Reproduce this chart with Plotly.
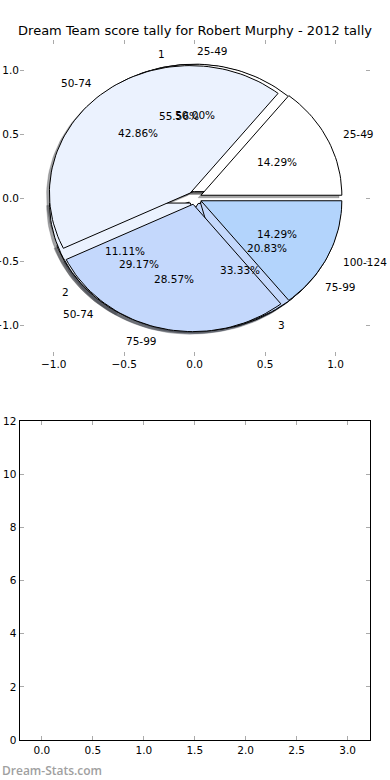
import math
import plotly.graph_objects as go

# ---- data ----
title_text = "Dream Team score tally for Robert Murphy - 2012 tally"

pieA_labels = ["1", "2", "3"]
pieA_values = [5, 1, 3]

pieB_labels = ["25-49", "50-74", "75-99"]
pieB_values = [12, 7, 5]

pieC_labels = ["25-49", "50-74", "75-99", "100-124"]
pieC_values = [1, 3, 2, 1]

pie_colors = ["#ffffff", "#ebf2fe", "#c4d8fc", "#b3d4fc"]

top_ticks = [-1.0, -0.5, 0.0, 0.5, 1.0]
top_ticktext = ["\u22121.0", "\u22120.5", "0.0", "0.5", "1.0"]
bottom_xticks = [0.0, 0.5, 1.0, 1.5, 2.0, 2.5, 3.0]
bottom_yticks = [0, 2, 4, 6, 8, 10, 12]

EXPLODE = 0.05
RADIUS = 1.0
SHADOW = (-0.02, -0.02)
FONT = "DejaVu Sans"

fig = go.Figure()
annotations = []


def shade(hexcol):
    h = hexcol.lstrip("#")
    r, g, b = (int(h[i:i + 2], 16) for i in (0, 2, 4))
    return "rgba(%d,%d,%d,0.5)" % (r * 0.3, g * 0.3, b * 0.3)


def wedge_path(cx, cy, t1, t2, r):
    n = max(8, int(abs(t2 - t1) / 2) + 2)
    xs, ys = [cx], [cy]
    for i in range(n + 1):
        t = math.radians(t1 + (t2 - t1) * i / n)
        xs.append(cx + r * math.cos(t))
        ys.append(cy + r * math.sin(t))
    xs.append(cx)
    ys.append(cy)
    return xs, ys


def pie_wedges(labels, values):
    total = float(sum(values))
    theta1 = 0.0
    wedges = []
    for i, v in enumerate(values):
        frac = v / total
        theta2 = theta1 + 360.0 * frac
        tm = math.radians((theta1 + theta2) / 2.0)
        cx = EXPLODE * math.cos(tm)
        cy = EXPLODE * math.sin(tm)
        wedges.append((cx, cy, theta1, theta2, tm, frac, labels[i], pie_colors[i % len(pie_colors)]))
        theta1 = theta2
    return wedges


pies = [pie_wedges(pieA_labels, pieA_values),
        pie_wedges(pieB_labels, pieB_values),
        pie_wedges(pieC_labels, pieC_values)]

# shadows (drawn below every wedge)
for wedges in pies:
    for cx, cy, t1, t2, tm, frac, lab, col in wedges:
        xs, ys = wedge_path(cx, cy, t1, t2, RADIUS)
        xs = [x + SHADOW[0] for x in xs]
        ys = [y + SHADOW[1] for y in ys]
        sc = shade(col)
        fig.add_trace(go.Scatter(x=xs, y=ys, mode="lines", fill="toself", fillcolor=sc,
                                 line=dict(color=sc, width=0.5), hoverinfo="skip",
                                 showlegend=False, xaxis="x", yaxis="y"))

# wedges
for wedges in pies:
    for cx, cy, t1, t2, tm, frac, lab, col in wedges:
        xs, ys = wedge_path(cx, cy, t1, t2, RADIUS)
        fig.add_trace(go.Scatter(x=xs, y=ys, mode="lines", fill="toself", fillcolor=col,
                                 line=dict(color="black", width=1), hoverinfo="skip",
                                 showlegend=False, xaxis="x", yaxis="y"))

# texts
for wedges in pies:
    for cx, cy, t1, t2, tm, frac, lab, col in wedges:
        xt = cx + 1.1 * RADIUS * math.cos(tm)
        yt = cy + 1.1 * RADIUS * math.sin(tm)
        annotations.append(dict(x=xt, y=yt, xref="x", yref="y", text=lab, showarrow=False,
                                xanchor="left" if xt > 0 else "right", yanchor="middle",
                                font=dict(family=FONT, size=10.5, color="black")))
        xp = cx + 0.6 * RADIUS * math.cos(tm)
        yp = cy + 0.6 * RADIUS * math.sin(tm)
        annotations.append(dict(x=xp, y=yp, xref="x", yref="y", text="%.2f%%" % (100 * frac),
                                showarrow=False, xanchor="center", yanchor="middle",
                                font=dict(family=FONT, size=10.5, color="black")))

# invisible trace to anchor bottom axes
fig.add_trace(go.Scatter(x=[], y=[], xaxis="x2", yaxis="y2", showlegend=False))

W, H = 390, 780


def px(x):
    return x / W


def py(y):
    return 1 - y / H


tickfont = dict(family=FONT, size=10.5, color="black")
common = dict(showgrid=False, zeroline=False, ticks="inside", ticklen=4,
              tickcolor="#aaaaaa", mirror="ticks", tickfont=tickfont, automargin=False)

fig.update_layout(
    width=W, height=H,
    margin=dict(l=0, r=0, t=0, b=0),
    paper_bgcolor="white", plot_bgcolor="white",
    showlegend=False,
    title=dict(text=title_text, x=0.5, xanchor="center", y=py(30), yanchor="middle",
               font=dict(family=FONT, size=13, color="black")),
    xaxis=dict(domain=[px(20), px(370)], range=[-1.24, 1.245], tickvals=top_ticks,
               ticktext=top_ticktext, showline=False, anchor="y", fixedrange=True, **common),
    yaxis=dict(domain=[py(356), py(40)], range=[-1.24, 1.24], tickvals=top_ticks,
               ticktext=top_ticktext, showline=False, anchor="x", fixedrange=True, **common),
    xaxis2=dict(domain=[px(19.5), px(370)], range=[-0.22, 3.22], tickvals=bottom_xticks,
                ticktext=["%.1f" % v for v in bottom_xticks],
                showline=True, linecolor="black", linewidth=1, anchor="y2", **common),
    yaxis2=dict(domain=[py(740), py(421)], range=[0, 12], tickvals=bottom_yticks,
                showline=True, linecolor="black", linewidth=1, anchor="x2", **common),
    annotations=annotations + [
        dict(x=0, y=py(770), xref="paper", yref="paper", text="Dream-Stats.com",
             showarrow=False, xanchor="left", yanchor="middle",
             font=dict(family="Open Sans", size=12, color="#a0a0a0", weight=600))
    ],
)

fig.write_html("out.html", config={"displayModeBar": False},
               post_script="document.body.style.margin='0';document.body.style.padding='0';")
